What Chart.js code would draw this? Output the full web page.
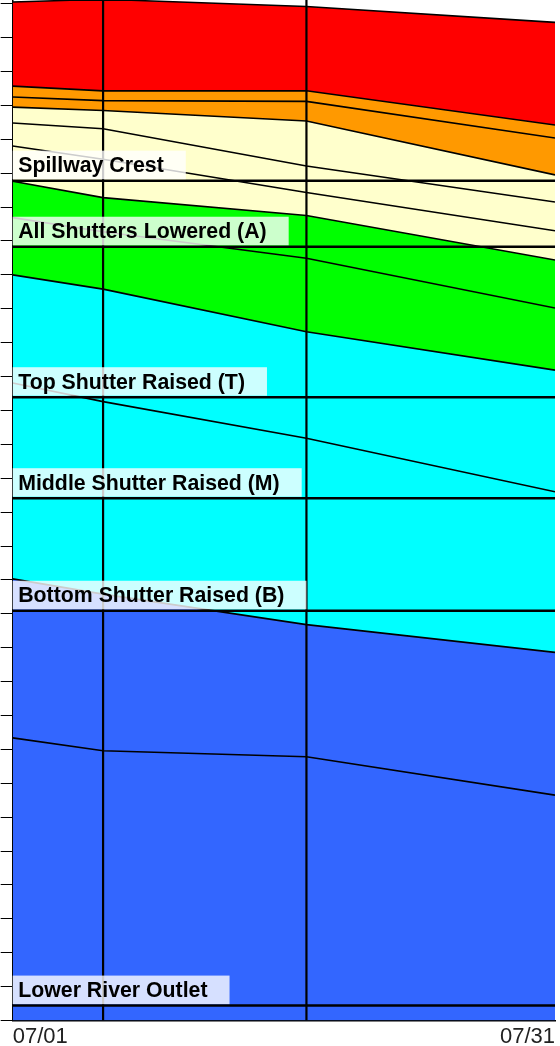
<!DOCTYPE html>
<html>
<head>
<meta charset="utf-8">
<style>
  html, body { margin: 0; padding: 0; background: #fff; }
  #wrap { width: 560px; height: 1046px; }
</style>
<script src="https://cdn.jsdelivr.net/npm/chart.js@4.4.1/dist/chart.umd.min.js"></script>
</head>
<body>
<div id="wrap"><canvas id="ruleCurve" width="560" height="1046"></canvas></div>
<script>
// --- Data (days after 07/01, level in axis units) ---
const dayOffsets = [0, 5, 16.25, 30];
const xTickDays = [0, 30];
const xTickLabels = ['07/01', '07/31'];
const yTickValues = [0, 1, 2, 3, 4, 5, 6, 7, 8, 9, 10, 11, 12, 13, 14, 15,
                     16, 17, 18, 19, 20, 21, 22, 23, 24, 25, 26, 27, 28, 29, 30];

const redTop      = [30.05, 30.13, 29.92, 29.45];
const orangeTop   = [27.57, 27.43, 27.43, 26.42];
const orangeMid   = [27.25, 27.14, 27.12, 26.04];
const yellowTop   = [26.95, 26.85, 26.54, 24.95];
const yellowMid1  = [26.48, 26.31, 25.21, 24.15];
const yellowMid2  = [25.80, 25.41, 24.43, 23.30];
const greenTop    = [24.76, 24.28, 23.75, 22.44];
const greenMid    = [23.69, 23.27, 22.49, 21.02];
const cyanTop     = [22.00, 21.58, 20.32, 19.19];
const cyanMid     = [18.81, 18.26, 17.18, 15.60];
const blueTop     = [13.03, 12.58, 11.68, 10.86];
const blueMid     = [8.34, 7.96, 7.78, 6.65];

const levelNames = ['Spillway Crest', 'All Shutters Lowered (A)', 'Top Shutter Raised (T)',
                    'Middle Shutter Raised (M)', 'Bottom Shutter Raised (B)', 'Lower River Outlet'];
const levelValues = [24.78, 22.83, 18.39, 15.41, 12.09, 0.44];
const markerDays = [5, 16.25];

const Y_MAX = 30.11;
const FONT = 'Arial, "Liberation Sans", Helvetica, sans-serif';

// --- Build datasets ---
const bands = [
    [redTop, '#ff0000'],
    [orangeTop, '#ff9900'],
    [orangeMid, '#ff9900'],
    [yellowTop, '#ffffcc'],
    [yellowMid1, '#ffffcc'],
    [yellowMid2, '#ffffcc'],
    [greenTop, '#00ff00'],
    [greenMid, '#00ff00'],
    [cyanTop, '#00ffff'],
    [cyanMid, '#00ffff'],
    [blueTop, '#3366ff'],
    [blueMid, '#3366ff']
];

const datasets = bands.map(([vals, color], i) => ({
    data: dayOffsets.map((d, j) => ({ x: d, y: vals[j] })),
    borderColor: '#000',
    borderWidth: 1.6,
    backgroundColor: color,
    fill: i === bands.length - 1 ? 'origin' : '+1',
    pointRadius: 0,
    tension: 0
}));

levelValues.forEach(v => {
    datasets.push({
        data: [{ x: 0, y: v }, { x: 30, y: v }],
        borderColor: '#000',
        borderWidth: 2.5,
        fill: false,
        pointRadius: 0
    });
});

markerDays.forEach(d => {
    datasets.push({
        data: [{ x: d, y: 0 }, { x: d, y: Y_MAX }],
        borderColor: '#000',
        borderWidth: 2.2,
        fill: false,
        pointRadius: 0
    });
});

// labels with translucent boxes sitting on each level line
const levelLabels = {
    id: 'levelLabels',
    afterDatasetsDraw(chart) {
        const { ctx, chartArea, scales: { y } } = chart;
        ctx.save();
        ctx.font = 'bold 21.3px ' + FONT;
        ctx.textBaseline = 'alphabetic';
        levelNames.forEach((name, i) => {
            const py = y.getPixelForValue(levelValues[i]);
            const w = ctx.measureText(name).width;
            ctx.fillStyle = 'rgba(255,255,255,0.8)';
            ctx.fillRect(chartArea.left, py - 30, 5.5 + w + 22, 28.5);
            ctx.fillStyle = '#000';
            ctx.fillText(name, chartArea.left + 5.5, py - 8.4);
        });
        ctx.restore();
    }
};

new Chart(document.getElementById('ruleCurve'), {
    type: 'line',
    data: { datasets },
    plugins: [levelLabels],
    options: {
        responsive: false,
        animation: false,
        layout: { padding: { left: 0, right: 2.7, top: 0, bottom: 0 } },
        plugins: {
            legend: { display: false },
            tooltip: { enabled: false },
            filler: { drawTime: 'beforeDatasetsDraw' }
        },
        scales: {
            x: {
                type: 'linear',
                min: 0,
                max: 30,
                afterBuildTicks: s => { s.ticks = xTickDays.map(v => ({ value: v })); },
                afterFit: s => { s.height = 25.5; },
                ticks: {
                    callback: (v, i) => xTickLabels[i],
                    align: 'inner',
                    autoSkip: false,
                    maxRotation: 0,
                    padding: 5,
                    color: '#222',
                    font: { family: FONT, size: 22, lineHeight: 1 }
                },
                grid: { display: false, drawTicks: false },
                border: { display: true, color: '#000', width: 1.5 }
            },
            y: {
                type: 'linear',
                min: 0,
                max: Y_MAX,
                afterBuildTicks: s => { s.ticks = yTickValues.map(v => ({ value: v })); },
                afterFit: s => { s.width = 12.7; },
                ticks: { display: false },
                grid: { drawOnChartArea: false, drawTicks: true, tickLength: 12, color: '#000', lineWidth: 1 },
                border: { display: true, color: '#000', width: 1.5 }
            }
        }
    }
});
</script>
</body>
</html>
